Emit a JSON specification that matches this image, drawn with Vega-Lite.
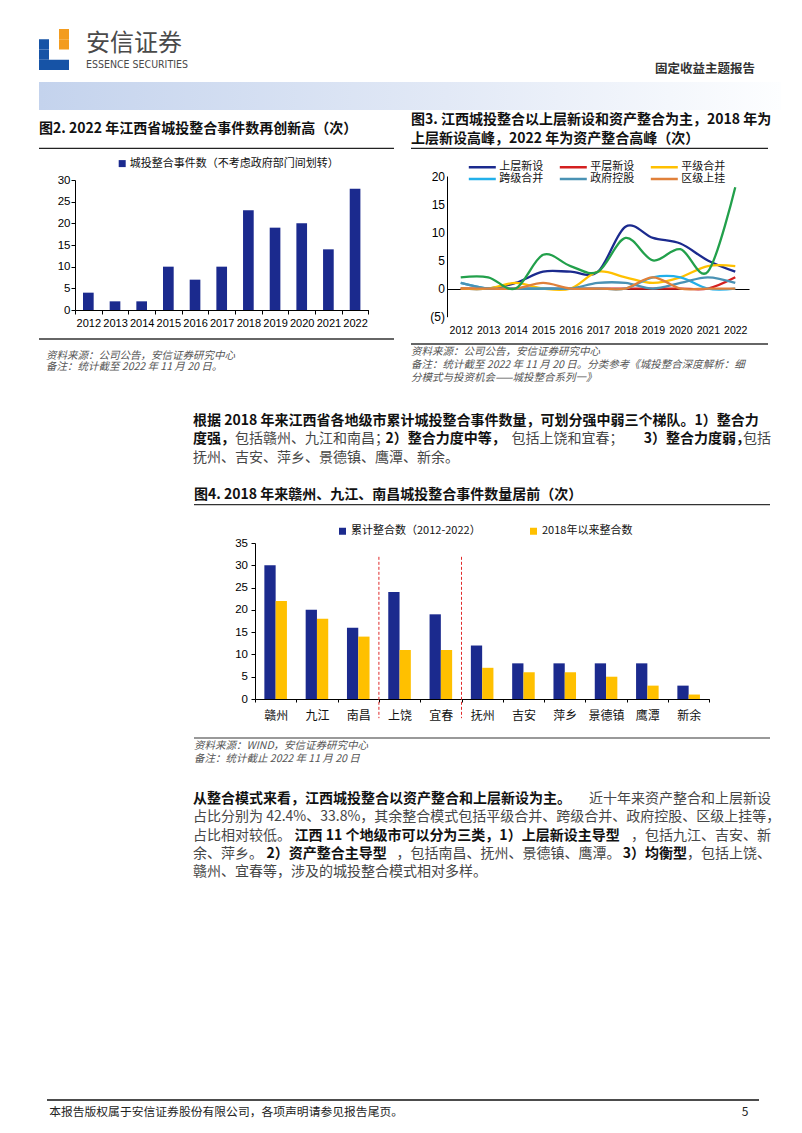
{
  "$schema": "https://vega.github.io/schema/vega-lite/v6.json",
  "background": "white",
  "padding": {"left": 38, "top": 29, "right": 0, "bottom": 0},
  "config": {
    "view": {"stroke": null},
    "font": "Noto Sans CJK SC",
    "axis": {"domainColor": "#000", "tickColor": "#000", "labelColor": "#000", "grid": false, "labelOverlap": false},
    "legend": {"padding": 0}
  },
  "spacing": 0,
  "resolve": {"scale": {"color": "independent"}},
  "vconcat": [
    {
      "spacing": 0,
      "hconcat": [
        {
          "width": 30, "height": 41,
          "data": {"values": [
            {"c": 2, "r": 0, "p": "o"}, {"c": 2, "r": 1, "p": "o"},
            {"c": 0, "r": 1, "p": "b"}, {"c": 0, "r": 2, "p": "b"}, {"c": 0, "r": 3, "p": "b"},
            {"c": 1, "r": 3, "p": "b"}, {"c": 2, "r": 3, "p": "b"}
          ]},
          "encoding": {
            "x": {"field": "c", "type": "ordinal", "axis": null, "scale": {"domain": [0, 1, 2], "paddingInner": 0, "paddingOuter": 0}},
            "y": {"field": "r", "type": "ordinal", "axis": null, "scale": {"domain": [0, 1, 2, 3], "paddingInner": 0, "paddingOuter": 0}}
          },
          "layer": [
            {"transform": [{"filter": "datum.p === 'b'"}], "mark": {"type": "rect", "color": "#1653a6"}},
            {"transform": [{"filter": "datum.p === 'o'"}], "mark": {"type": "rect", "color": "#f39c1f"}}
          ]
        },
        {"width": 17, "height": 1, "data": {"values": []}, "mark": "point"},
        {
          "width": 110, "height": 47,
          "data": {"values": [{"k": "cn", "t": "安信证券"}, {"k": "en", "t": "ESSENCE SECURITIES"}]},
          "encoding": {
            "y": {"field": "k", "type": "nominal", "axis": null, "scale": {"type": "point", "domain": ["cn", "en"], "padding": 0.603, "align": 0.572}},
            "x": {"datum": 0, "type": "quantitative", "axis": null, "scale": {"domain": [0, 1]}},
            "text": {"field": "t"}
          },
          "layer": [
            {"transform": [{"filter": "datum.k === 'cn'"}], "mark": {"type": "text", "align": "left", "baseline": "middle", "fontSize": 24, "color": "#4a4a4a"}},
            {"transform": [{"filter": "datum.k === 'en'"}], "mark": {"type": "text", "align": "left", "baseline": "middle", "fontSize": 10.5, "font": "Liberation Sans Narrow, DejaVu Sans Condensed, sans-serif", "color": "#4a4a4a"}}
          ]
        },
        {
          "width": 559, "height": 47,
          "data": {"values": [{"t": "固定收益主题报告"}]},
          "mark": {"type": "text", "align": "right", "baseline": "bottom", "fontSize": 12.5, "fontWeight": "bold", "color": "#333"},
          "encoding": {
            "x": {"datum": 1, "type": "quantitative", "axis": null, "scale": {"domain": [0, 1]}},
            "y": {"datum": 0, "type": "quantitative", "axis": null, "scale": {"domain": [0, 1]}},
            "text": {"field": "t"}
          }
        }
      ]
    },
    {"width": 1, "height": 6, "data": {"values": []}, "mark": "point"},
    {
      "width": 742, "height": 28,
      "data": {"values": [{}]},
      "mark": {"type": "rect", "fill": {"gradient": "linear", "x1": 0, "y1": 0, "x2": 1, "y2": 0, "stops": [
        {"offset": 0, "color": "#c4d3ed"}, {"offset": 0.55, "color": "#e2e9f6"}, {"offset": 1, "color": "#fdfeff"}
      ]}}
    },
    {
      "spacing": 0,
      "resolve": {"scale": {"color": "independent"}},
      "hconcat": [
        {
          "spacing": 0,
          "resolve": {"scale": {"color": "independent"}},
          "vconcat": [
            {
              "width": 355, "height": 38.3,
              "data": {"values": [{"t": "图2. 2022 年江西省城投整合事件数再创新高（次）"}]},
              "layer": [
                {"mark": {"type": "text", "align": "left", "baseline": "middle", "fontSize": 14, "fontWeight": "bold", "color": "#111"},
                 "encoding": {"x": {"datum": 0, "type": "quantitative", "axis": null, "scale": {"domain": [0, 1]}}, "text": {"field": "t"}}},
                {"mark": {"type": "rule", "color": "#222", "strokeWidth": 1.3},
                 "encoding": {"y": {"datum": 0, "type": "quantitative", "axis": null, "scale": {"domain": [0, 1]}}}}
              ]
            },
            {"width": 1, "height": 8.85, "data": {"values": []}, "mark": "point"},
            {
              "spacing": 0,
              "resolve": {"scale": {"color": "independent"}},
              "hconcat": [
                {"width": 17.5, "height": 1, "data": {"values": []}, "mark": "point"},
                {
                  "width": 293.4, "height": 130,
                  "data": {"values": [
                    {"year": "2012", "n": 4, "s": "城投整合事件数（不考虑政府部门间划转）"},
                    {"year": "2013", "n": 2, "s": "城投整合事件数（不考虑政府部门间划转）"},
                    {"year": "2014", "n": 2, "s": "城投整合事件数（不考虑政府部门间划转）"},
                    {"year": "2015", "n": 10, "s": "城投整合事件数（不考虑政府部门间划转）"},
                    {"year": "2016", "n": 7, "s": "城投整合事件数（不考虑政府部门间划转）"},
                    {"year": "2017", "n": 10, "s": "城投整合事件数（不考虑政府部门间划转）"},
                    {"year": "2018", "n": 23, "s": "城投整合事件数（不考虑政府部门间划转）"},
                    {"year": "2019", "n": 19, "s": "城投整合事件数（不考虑政府部门间划转）"},
                    {"year": "2020", "n": 20, "s": "城投整合事件数（不考虑政府部门间划转）"},
                    {"year": "2021", "n": 14, "s": "城投整合事件数（不考虑政府部门间划转）"},
                    {"year": "2022", "n": 28, "s": "城投整合事件数（不考虑政府部门间划转）"}
                  ]},
                  "mark": {"type": "bar", "width": {"band": 0.4}},
                  "encoding": {
                    "x": {"field": "year", "type": "ordinal", "scale": {"paddingInner": 0, "paddingOuter": 0},
                          "axis": {"title": null, "labelAngle": 0, "labelFont": "Liberation Sans", "labelFontSize": 11, "tickBand": "extent", "tickSize": 4, "labelPadding": 3.5}},
                    "y": {"field": "n", "type": "quantitative", "scale": {"domain": [0, 30], "nice": false},
                          "axis": {"title": null, "values": [0, 5, 10, 15, 20, 25, 30], "labelFont": "Liberation Sans", "labelFontSize": 11.5, "tickSize": 4, "labelPadding": 1}},
                    "color": {"field": "s", "type": "nominal", "scale": {"range": ["#1b2a8e"]},
                              "legend": {"title": null, "orient": "none", "legendX": 41.7, "legendY": -21.9, "symbolType": "square", "symbolSize": 49, "labelFontSize": 11, "labelColor": "#111", "labelLimit": 400, "labelOffset": 2}}
                  }
                }
              ]
            },
            {"width": 1, "height": 9.0, "data": {"values": []}, "mark": "point"},
            {"width": 355, "height": 1, "data": {"values": [{}]}, "mark": {"type": "rule", "color": "#333", "strokeWidth": 1.3},
             "encoding": {"y": {"datum": 0, "type": "quantitative", "axis": null, "scale": {"domain": [0, 1]}}}},
            {"width": 1, "height": 9.7, "data": {"values": []}, "mark": "point"},
            {
              "spacing": 0,
              "hconcat": [
                {"width": 7, "height": 1, "data": {"values": []}, "mark": "point"},
                {
                  "width": 348, "height": 22.6,
                  "data": {"values": [
                    {"line": 1, "t": "资料来源：公司公告，安信证券研究中心"},
                    {"line": 2, "t": "备注：统计截至 2022 年 11 月 20 日。"}
                  ]},
                  "mark": {"type": "text", "align": "left", "baseline": "middle", "fontSize": 10.5, "fontStyle": "italic", "color": "#555"},
                  "encoding": {
                    "y": {"field": "line", "type": "ordinal", "axis": null, "scale": {"type": "point"}},
                    "x": {"datum": 0, "type": "quantitative", "axis": null, "scale": {"domain": [0, 1]}},
                    "text": {"field": "t"}
                  }
                }
              ]
            }
          ]
        },
        {"width": 15, "height": 1, "data": {"values": []}, "mark": "point"},
        {
          "spacing": 0,
          "resolve": {"scale": {"color": "independent"}},
          "vconcat": [
            {
              "width": 357, "height": 38.3,
              "data": {"values": [
                {"line": 1, "t": "图3. 江西城投整合以上层新设和资产整合为主，2018 年为"},
                {"line": 2, "t": "上层新设高峰，2022 年为资产整合高峰（次）"}
              ]},
              "resolve": {"scale": {"y": "independent"}},
              "layer": [
                {"mark": {"type": "text", "align": "left", "baseline": "middle", "fontSize": 14, "fontWeight": "bold", "color": "#111"},
                 "encoding": {
                   "y": {"field": "line", "type": "ordinal", "axis": null, "scale": {"type": "point"}},
                   "x": {"datum": 0, "type": "quantitative", "axis": null, "scale": {"domain": [0, 1]}},
                   "text": {"field": "t"}}},
                {"data": {"values": [{}]}, "mark": {"type": "rule", "color": "#222", "strokeWidth": 1.3},
                 "encoding": {"y": {"datum": 0, "type": "quantitative", "axis": null, "scale": {"domain": [0, 1]}}}}
              ]
            },
            {"width": 1, "height": 11.55, "data": {"values": []}, "mark": "point"},
            {
              "spacing": 0,
              "resolve": {"scale": {"color": "independent"}},
              "hconcat": [
                {"width": 17.5, "height": 1, "data": {"values": []}, "mark": "point"},
                {
                  "width": 302, "height": 140.7,
                  "data": {"values": [
                    {"year": "2012", "cat": "上层新设", "v": 0}, {"year": "2013", "cat": "上层新设", "v": 0}, {"year": "2014", "cat": "上层新设", "v": 1}, {"year": "2015", "cat": "上层新设", "v": 3}, {"year": "2016", "cat": "上层新设", "v": 3}, {"year": "2017", "cat": "上层新设", "v": 3}, {"year": "2018", "cat": "上层新设", "v": 11}, {"year": "2019", "cat": "上层新设", "v": 9}, {"year": "2020", "cat": "上层新设", "v": 8}, {"year": "2021", "cat": "上层新设", "v": 5}, {"year": "2022", "cat": "上层新设", "v": 3},
                    {"year": "2012", "cat": "平层新设", "v": 0}, {"year": "2013", "cat": "平层新设", "v": 0}, {"year": "2014", "cat": "平层新设", "v": 0}, {"year": "2015", "cat": "平层新设", "v": 0}, {"year": "2016", "cat": "平层新设", "v": 0}, {"year": "2017", "cat": "平层新设", "v": 0}, {"year": "2018", "cat": "平层新设", "v": 0}, {"year": "2019", "cat": "平层新设", "v": 0}, {"year": "2020", "cat": "平层新设", "v": 0}, {"year": "2021", "cat": "平层新设", "v": 0}, {"year": "2022", "cat": "平层新设", "v": 2},
                    {"year": "2012", "cat": "平级合并", "v": 0}, {"year": "2013", "cat": "平级合并", "v": 0}, {"year": "2014", "cat": "平级合并", "v": 1}, {"year": "2015", "cat": "平级合并", "v": 0}, {"year": "2016", "cat": "平级合并", "v": 0}, {"year": "2017", "cat": "平级合并", "v": 3}, {"year": "2018", "cat": "平级合并", "v": 2}, {"year": "2019", "cat": "平级合并", "v": 1}, {"year": "2020", "cat": "平级合并", "v": 2}, {"year": "2021", "cat": "平级合并", "v": 4}, {"year": "2022", "cat": "平级合并", "v": 4},
                    {"year": "2012", "cat": "跨级合并", "v": 1}, {"year": "2013", "cat": "跨级合并", "v": 0}, {"year": "2014", "cat": "跨级合并", "v": 0}, {"year": "2015", "cat": "跨级合并", "v": 0}, {"year": "2016", "cat": "跨级合并", "v": 0}, {"year": "2017", "cat": "跨级合并", "v": 0}, {"year": "2018", "cat": "跨级合并", "v": 0}, {"year": "2019", "cat": "跨级合并", "v": 2}, {"year": "2020", "cat": "跨级合并", "v": 2}, {"year": "2021", "cat": "跨级合并", "v": 0}, {"year": "2022", "cat": "跨级合并", "v": 0},
                    {"year": "2012", "cat": "政府控股", "v": 1}, {"year": "2013", "cat": "政府控股", "v": 0}, {"year": "2014", "cat": "政府控股", "v": 0}, {"year": "2015", "cat": "政府控股", "v": 0}, {"year": "2016", "cat": "政府控股", "v": 0}, {"year": "2017", "cat": "政府控股", "v": 1}, {"year": "2018", "cat": "政府控股", "v": 1}, {"year": "2019", "cat": "政府控股", "v": 0}, {"year": "2020", "cat": "政府控股", "v": 1}, {"year": "2021", "cat": "政府控股", "v": 2}, {"year": "2022", "cat": "政府控股", "v": 1},
                    {"year": "2012", "cat": "区级上挂", "v": 0}, {"year": "2013", "cat": "区级上挂", "v": 0}, {"year": "2014", "cat": "区级上挂", "v": 0}, {"year": "2015", "cat": "区级上挂", "v": 1}, {"year": "2016", "cat": "区级上挂", "v": 0}, {"year": "2017", "cat": "区级上挂", "v": 0}, {"year": "2018", "cat": "区级上挂", "v": 0}, {"year": "2019", "cat": "区级上挂", "v": 2}, {"year": "2020", "cat": "区级上挂", "v": 0}, {"year": "2021", "cat": "区级上挂", "v": 0}, {"year": "2022", "cat": "区级上挂", "v": 0},
                    {"year": "2012", "cat": "资产整合", "v": 2}, {"year": "2013", "cat": "资产整合", "v": 2}, {"year": "2014", "cat": "资产整合", "v": 0}, {"year": "2015", "cat": "资产整合", "v": 6}, {"year": "2016", "cat": "资产整合", "v": 4}, {"year": "2017", "cat": "资产整合", "v": 3}, {"year": "2018", "cat": "资产整合", "v": 9}, {"year": "2019", "cat": "资产整合", "v": 5}, {"year": "2020", "cat": "资产整合", "v": 7}, {"year": "2021", "cat": "资产整合", "v": 3}, {"year": "2022", "cat": "资产整合", "v": 18}
                  ]},
                  "mark": {"type": "line", "interpolate": "cardinal", "strokeWidth": 2.3},
                  "encoding": {
                    "x": {"field": "year", "type": "ordinal", "scale": {"paddingInner": 0, "paddingOuter": 0},
                          "axis": {"title": null, "labelAngle": 0, "domain": false, "ticks": false, "labelFont": "Liberation Sans", "labelFontSize": 10.5, "labelPadding": 8.3}},
                    "y": {"field": "v", "type": "quantitative", "scale": {"domain": [-5, 20], "nice": false},
                          "axis": {"title": null, "values": [-5, 0, 5, 10, 15, 20], "ticks": false, "labelPadding": 2.5, "labelFont": "Liberation Sans", "labelFontSize": 12,
                                   "grid": true, "gridWidth": 1,
                                   "gridColor": {"condition": {"test": "datum.value === 0", "value": "#000000"}, "value": "transparent"},
                                   "labelExpr": "datum.value < 0 ? '(' + abs(datum.value) + ')' : datum.label"}},
                    "color": {"field": "cat", "type": "nominal",
                              "scale": {"domain": ["上层新设", "平层新设", "平级合并", "跨级合并", "政府控股", "区级上挂", "资产整合"],
                                        "range": ["#1b2a8e", "#d42020", "#ffc000", "#22b0ea", "#4a92b4", "#e0803a", "#22a04b"]},
                              "legend": {"title": null, "orient": "none", "legendX": 20.3, "legendY": -14.35, "direction": "horizontal",
                                         "values": ["上层新设", "平层新设", "平级合并", "跨级合并", "政府控股", "区级上挂"],
                                         "columns": 3, "symbolType": "stroke", "symbolSize": 729, "symbolStrokeWidth": 2.5,
                                         "clipHeight": 10.7, "rowPadding": 0, "columnPadding": 15, "labelOffset": 2,
                                         "labelFontSize": 11, "labelColor": "#111"}}
                  }
                }
              ]
            },
            {"width": 1, "height": 6.8, "data": {"values": []}, "mark": "point"},
            {"width": 357, "height": 1, "data": {"values": [{}]}, "mark": {"type": "rule", "color": "#333", "strokeWidth": 1.3},
             "encoding": {"y": {"datum": 0, "type": "quantitative", "axis": null, "scale": {"domain": [0, 1]}}}},
            {
              "width": 357, "height": 39,
              "data": {"values": [
                {"line": 1, "t": "资料来源：公司公告，安信证券研究中心"},
                {"line": 2, "t": "备注：统计截至 2022 年 11 月 20 日。分类参考《城投整合深度解析：细"},
                {"line": 3, "t": "分模式与投资机会——城投整合系列一》"}
              ]},
              "mark": {"type": "text", "align": "left", "baseline": "middle", "fontSize": 10.5, "fontStyle": "italic", "color": "#555"},
              "encoding": {
                "y": {"field": "line", "type": "ordinal", "axis": null, "scale": {"type": "point"}},
                "x": {"datum": 0, "type": "quantitative", "axis": null, "scale": {"domain": [0, 1]}},
                "text": {"field": "t"}
              }
            }
          ]
        }
      ]
    },
    {"width": 1, "height": 27.05, "data": {"values": []}, "mark": "point"},
    {
      "spacing": 0,
      "hconcat": [
        {"width": 154, "height": 1, "data": {"values": []}, "mark": "point"},
        {
          "width": 578, "height": 54.9,
          "data": {"values": [
            {"line": 1, "lb": "根据 2018 年来江西省各地级市累计城投整合事件数量，可划分强中弱三个梯队。1）整合力", "lr": "", "rb": "", "rr": ""},
            {"line": 2,
             "lb": "度强，\u3000\u3000\u3000\u3000\u3000\u3000\u3000\u3000\u3000\u3000\u3000\u20052）整合力度中等，",
             "lr": "\u200b\u3000\u3000\u3000包括赣州、九江和南昌；\u2005\u2002\u3000\u3000\u3000\u3000\u3000\u3000\u3000\u3000包括上饶和宜春；",
             "rb": "3）整合力度弱，\u3000\u3000\u200b",
             "rr": "包括"},
            {"line": 3, "lb": "", "lr": "抚州、吉安、萍乡、景德镇、鹰潭、新余。", "rb": "", "rr": ""}
          ]},
          "encoding": {
            "y": {"field": "line", "type": "ordinal", "axis": null, "scale": {"type": "point"}},
            "x": {"datum": 0, "type": "quantitative", "axis": null, "scale": {"domain": [0, 1]}}
          },
          "layer": [
            {"mark": {"type": "text", "align": "left", "baseline": "middle", "fontSize": 14, "fontWeight": "bold", "color": "#111"}, "encoding": {"text": {"field": "lb"}}},
            {"mark": {"type": "text", "align": "left", "baseline": "middle", "fontSize": 14, "color": "#474747"}, "encoding": {"text": {"field": "lr"}}},
            {"mark": {"type": "text", "align": "right", "baseline": "middle", "fontSize": 14, "fontWeight": "bold", "color": "#111"},
             "encoding": {"x": {"datum": 1, "type": "quantitative", "axis": null, "scale": {"domain": [0, 1]}}, "text": {"field": "rb"}}},
            {"mark": {"type": "text", "align": "right", "baseline": "middle", "fontSize": 14, "color": "#474747"},
             "encoding": {"x": {"datum": 1, "type": "quantitative", "axis": null, "scale": {"domain": [0, 1]}}, "text": {"field": "rr"}}}
          ]
        }
      ]
    },
    {"width": 1, "height": 18.5, "data": {"values": []}, "mark": "point"},
    {
      "spacing": 0,
      "hconcat": [
        {"width": 154, "height": 1, "data": {"values": []}, "mark": "point"},
        {
          "width": 576, "height": 18.6,
          "data": {"values": [{"t": "图4. 2018 年来赣州、九江、南昌城投整合事件数量居前（次）"}]},
          "layer": [
            {"mark": {"type": "text", "align": "left", "baseline": "middle", "fontSize": 14, "fontWeight": "bold", "color": "#111"},
             "encoding": {"x": {"datum": 0, "type": "quantitative", "axis": null, "scale": {"domain": [0, 1]}}, "text": {"field": "t"}}},
            {"mark": {"type": "rule", "color": "#333", "strokeWidth": 1.3},
             "encoding": {"y": {"datum": 0, "type": "quantitative", "axis": null, "scale": {"domain": [0, 1]}}}}
          ]
        }
      ]
    },
    {"width": 1, "height": 18.85, "data": {"values": []}, "mark": "point"},
    {
      "spacing": 0,
      "resolve": {"scale": {"color": "independent"}},
      "hconcat": [
        {"width": 194.7, "height": 1, "data": {"values": []}, "mark": "point"},
        {
          "width": 454.3, "height": 156,
          "resolve": {"scale": {"y": "independent"}, "axis": {"y": "independent"}},
          "layer": [
            {
              "data": {"values": [
                {"city": "赣州", "series": "累计整合数（2012-2022）", "v": 30}, {"city": "赣州", "series": "2018年以来整合数", "v": 22},
                {"city": "九江", "series": "累计整合数（2012-2022）", "v": 20}, {"city": "九江", "series": "2018年以来整合数", "v": 18},
                {"city": "南昌", "series": "累计整合数（2012-2022）", "v": 16}, {"city": "南昌", "series": "2018年以来整合数", "v": 14},
                {"city": "上饶", "series": "累计整合数（2012-2022）", "v": 24}, {"city": "上饶", "series": "2018年以来整合数", "v": 11},
                {"city": "宜春", "series": "累计整合数（2012-2022）", "v": 19}, {"city": "宜春", "series": "2018年以来整合数", "v": 11},
                {"city": "抚州", "series": "累计整合数（2012-2022）", "v": 12}, {"city": "抚州", "series": "2018年以来整合数", "v": 7},
                {"city": "吉安", "series": "累计整合数（2012-2022）", "v": 8}, {"city": "吉安", "series": "2018年以来整合数", "v": 6},
                {"city": "萍乡", "series": "累计整合数（2012-2022）", "v": 8}, {"city": "萍乡", "series": "2018年以来整合数", "v": 6},
                {"city": "景德镇", "series": "累计整合数（2012-2022）", "v": 8}, {"city": "景德镇", "series": "2018年以来整合数", "v": 5},
                {"city": "鹰潭", "series": "累计整合数（2012-2022）", "v": 8}, {"city": "鹰潭", "series": "2018年以来整合数", "v": 3},
                {"city": "新余", "series": "累计整合数（2012-2022）", "v": 3}, {"city": "新余", "series": "2018年以来整合数", "v": 1}
              ]},
              "mark": {"type": "bar"},
              "encoding": {
                "x": {"field": "city", "type": "nominal",
                      "scale": {"domain": ["赣州", "九江", "南昌", "上饶", "宜春", "抚州", "吉安", "萍乡", "景德镇", "鹰潭", "新余"], "paddingInner": 0, "paddingOuter": 0},
                      "axis": {"title": null, "labelAngle": 0, "tickBand": "extent", "tickSize": 3, "labelPadding": 8, "labelFontSize": 12, "labelColor": "#111"}},
                "xOffset": {"field": "series", "type": "nominal", "scale": {"domain": ["累计整合数（2012-2022）", "2018年以来整合数"], "paddingInner": 0, "paddingOuter": 0.83}},
                "y": {"field": "v", "type": "quantitative", "scale": {"domain": [0, 35], "nice": false},
                      "axis": {"title": null, "values": [0, 5, 10, 15, 20, 25, 30, 35], "tickSize": 4, "labelPadding": 3.5, "labelFont": "Liberation Sans", "labelFontSize": 11.5}},
                "color": {"field": "series", "type": "nominal",
                          "scale": {"domain": ["累计整合数（2012-2022）", "2018年以来整合数"], "range": ["#1b2a8e", "#ffc000"]},
                          "legend": {"title": null, "orient": "none", "legendX": 82, "legendY": -17.5, "direction": "horizontal",
                                     "symbolType": "square", "symbolSize": 49, "labelFontSize": 11, "labelColor": "#111",
                                     "labelOffset": 3, "columnPadding": 47, "labelLimit": 300}}
              }
            },
            {
              "data": {"values": [{"after": "南昌"}, {"after": "宜春"}]},
              "mark": {"type": "rule", "color": "#e02a2a", "strokeDash": [3, 2], "strokeWidth": 1},
              "encoding": {
                "x": {"field": "after", "type": "nominal", "bandPosition": 1},
                "y": {"datum": 31.9, "type": "quantitative", "axis": null, "scale": {"domain": [0, 35], "nice": false, "zero": false}},
                "y2": {"datum": -4.3}
              }
            }
          ]
        }
      ]
    },
    {"width": 1, "height": 16, "data": {"values": []}, "mark": "point"},
    {
      "spacing": 0,
      "hconcat": [
        {"width": 154, "height": 1, "data": {"values": []}, "mark": "point"},
        {
          "spacing": 0,
          "vconcat": [
            {"width": 576, "height": 1, "data": {"values": [{}]}, "mark": {"type": "rule", "color": "#999", "strokeWidth": 2},
             "encoding": {"y": {"datum": 0, "type": "quantitative", "axis": null, "scale": {"domain": [0, 1]}}}},
            {
              "width": 576, "height": 26,
              "data": {"values": [
                {"line": 1, "t": "资料来源：WIND，安信证券研究中心"},
                {"line": 2, "t": "备注：统计截止 2022 年 11 月 20 日"}
              ]},
              "mark": {"type": "text", "align": "left", "baseline": "middle", "fontSize": 10.5, "fontStyle": "italic", "color": "#555"},
              "encoding": {
                "y": {"field": "line", "type": "ordinal", "axis": null, "scale": {"type": "point"}},
                "x": {"datum": 0, "type": "quantitative", "axis": null, "scale": {"domain": [0, 1]}},
                "text": {"field": "t"}
              }
            }
          ]
        }
      ]
    },
    {"width": 1, "height": 24.85, "data": {"values": []}, "mark": "point"},
    {
      "spacing": 0,
      "hconcat": [
        {"width": 154, "height": 1, "data": {"values": []}, "mark": "point"},
        {
          "width": 578, "height": 91.5,
          "data": {"values": [
            {"line": 1, "lb": "从整合模式来看，江西城投整合以资产整合和上层新设为主。", "lr": "", "rb": "", "rr": "近十年来资产整合和上层新设"},
            {"line": 2, "lb": "", "lr": "占比分别为 42.4%、33.8%，其余整合模式包括平级合并、跨级合并、政府控股、区级上挂等，", "rb": "", "rr": ""},
            {"line": 3,
             "lb": "\u200b\u3000\u3000\u3000\u3000\u3000\u3000\u3000\u2005江西 11 个地级市可以分为三类，1）上层新设主导型",
             "lr": "占比相对较低。",
             "rb": "",
             "rr": "，包括九江、吉安、新"},
            {"line": 4,
             "lb": "\u200b\u3000\u3000\u3000\u3000\u3000\u20052）资产整合主导型",
             "lr": "余、萍乡。",
             "rb": "3）均衡型\u3000\u3000\u3000\u3000\u3000\u3000\u200b",
             "rr": "，包括南昌、抚州、景德镇、鹰潭。\u2005\u2002\u3000\u3000\u3000\u3000，包括上饶、"},
            {"line": 5, "lb": "", "lr": "赣州、宜春等，涉及的城投整合模式相对多样。", "rb": "", "rr": ""}
          ]},
          "encoding": {
            "y": {"field": "line", "type": "ordinal", "axis": null, "scale": {"type": "point"}},
            "x": {"datum": 0, "type": "quantitative", "axis": null, "scale": {"domain": [0, 1]}}
          },
          "layer": [
            {"mark": {"type": "text", "align": "left", "baseline": "middle", "fontSize": 14, "fontWeight": "bold", "color": "#111"}, "encoding": {"text": {"field": "lb"}}},
            {"mark": {"type": "text", "align": "left", "baseline": "middle", "fontSize": 14, "color": "#474747"}, "encoding": {"text": {"field": "lr"}}},
            {"mark": {"type": "text", "align": "right", "baseline": "middle", "fontSize": 14, "fontWeight": "bold", "color": "#111"},
             "encoding": {"x": {"datum": 1, "type": "quantitative", "axis": null, "scale": {"domain": [0, 1]}}, "text": {"field": "rb"}}},
            {"mark": {"type": "text", "align": "right", "baseline": "middle", "fontSize": 14, "color": "#474747"},
             "encoding": {"x": {"datum": 1, "type": "quantitative", "axis": null, "scale": {"domain": [0, 1]}}, "text": {"field": "rr"}}}
          ]
        }
      ]
    },
    {"width": 1, "height": 216.9, "data": {"values": []}, "mark": "point"},
    {
      "spacing": 0,
      "hconcat": [
        {"width": 7, "height": 1, "data": {"values": []}, "mark": "point"},
        {
          "width": 712, "height": 24,
          "data": {"values": [{"l": "本报告版权属于安信证券股份有限公司，各项声明请参见报告尾页。", "r": "5"}]},
          "layer": [
            {"mark": {"type": "rule", "color": "#111", "strokeWidth": 1.5},
             "encoding": {"y": {"datum": 1, "type": "quantitative", "axis": null, "scale": {"domain": [0, 1]}}}},
            {"mark": {"type": "text", "align": "left", "baseline": "middle", "fontSize": 11.8, "color": "#222"},
             "encoding": {"x": {"datum": 0.003, "type": "quantitative", "axis": null, "scale": {"domain": [0, 1]}}, "text": {"field": "l"}}},
            {"mark": {"type": "text", "align": "right", "baseline": "middle", "fontSize": 12, "color": "#222"},
             "encoding": {"x": {"datum": 0.985, "type": "quantitative", "axis": null, "scale": {"domain": [0, 1]}}, "text": {"field": "r"}}}
          ]
        }
      ]
    }
  ]
}
